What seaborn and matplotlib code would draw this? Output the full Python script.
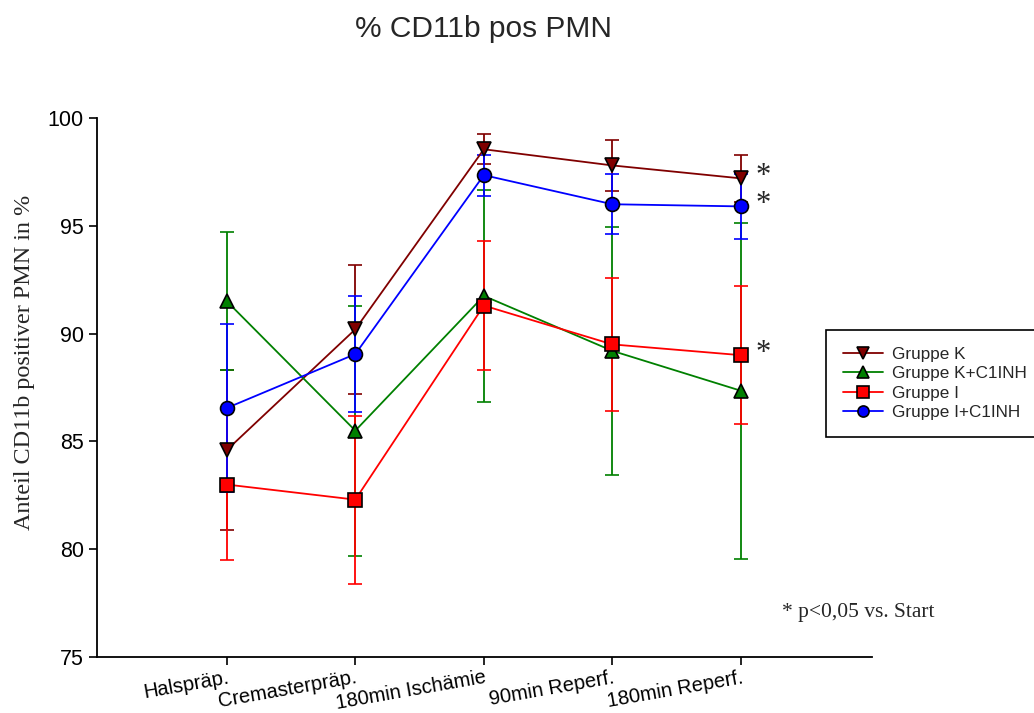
import numpy as np
import pandas as pd
import matplotlib
matplotlib.use('Agg')
import matplotlib.pyplot as plt
from matplotlib.lines import Line2D
import seaborn as sns

zeitpunkte = ['Halspräp.', 'Cremasterpräp.', '180min Ischämie', '90min Reperf.', '180min Reperf.']
gruppen = ['Gruppe K', 'Gruppe K+C1INH', 'Gruppe I', 'Gruppe I+C1INH']

k_mean = [84.6, 90.2, 98.55, 97.8, 97.2]
k_sd = [3.7, 3.0, 0.7, 1.2, 1.1]
kc_mean = [91.5, 85.5, 91.75, 89.2, 87.35]
kc_sd = [3.2, 5.8, 4.9, 5.75, 7.8]
i_mean = [83.0, 82.3, 91.3, 89.5, 89.0]
i_sd = [3.5, 3.9, 3.0, 3.1, 3.2]
ic_mean = [86.55, 89.05, 97.35, 96.0, 95.9]
ic_sd = [3.9, 2.7, 0.95, 1.4, 1.5]

# groups with significance at the last time point
signif = ['Gruppe K', 'Gruppe I', 'Gruppe I+C1INH']

means = {'Gruppe K': k_mean, 'Gruppe K+C1INH': kc_mean, 'Gruppe I': i_mean, 'Gruppe I+C1INH': ic_mean}
sds = {'Gruppe K': k_sd, 'Gruppe K+C1INH': kc_sd, 'Gruppe I': i_sd, 'Gruppe I+C1INH': ic_sd}
farben = {'Gruppe K': '#800000', 'Gruppe K+C1INH': '#008000', 'Gruppe I': '#ff0000', 'Gruppe I+C1INH': '#0000ff'}
marker = {'Gruppe K': 'v', 'Gruppe K+C1INH': '^', 'Gruppe I': 's', 'Gruppe I+C1INH': 'o'}

sns.set_style('ticks')
plt.rcParams['font.family'] = ['Liberation Sans', 'DejaVu Sans']

fig = plt.figure(figsize=(10.34, 7.13), dpi=100)
ax = fig.add_axes([0.0938, 0.0785, 0.7495, 0.756])

x = np.arange(len(zeitpunkte))
for g in gruppen:
    ax.errorbar(x, means[g], yerr=sds[g], color=farben[g], marker=marker[g],
                markersize=10, markeredgecolor='black', markeredgewidth=1.2,
                linewidth=1.3, elinewidth=1.3, capsize=5, capthick=1.3)

for g in signif:
    ax.text(x[-1] + 0.11, means[g][-1] + 0.1, '*', fontsize=22, family='Liberation Serif',
            ha='left', va='center')

ax.text(4.32, 77.05, '* p<0,05 vs. Start', fontsize=15.5, family='Liberation Serif',
        ha='left', va='center')

ax.set_xlim(-1.01, 5.02)
ax.set_ylim(75, 100)
ax.set_yticks([75, 80, 85, 90, 95, 100])
ax.set_xticks(x)
ax.set_xticklabels(zeitpunkte, rotation=10, ha='right', rotation_mode='anchor', fontsize=14.5)
ax.tick_params(axis='y', labelsize=15.5, length=6, width=1.2, colors='black')
ax.tick_params(axis='x', length=6, width=1.2, colors='black', pad=2)
for s in ['left', 'bottom']:
    ax.spines[s].set_linewidth(1.3)
    ax.spines[s].set_color('black')
sns.despine(ax=ax)

ax.set_ylabel('Anteil CD11b positiver PMN in %', family='Liberation Serif', fontsize=17.4)
ax.yaxis.set_label_coords(-0.08, 0.547)
fig.text(0.468, 0.960, '% CD11b pos PMN', fontsize=21.5, ha='center', va='center')

handles = [Line2D([], [], color=farben[g], marker=marker[g], markersize=8,
                  markeredgecolor='black', markeredgewidth=1.2, linewidth=1.3)
           for g in gruppen]
leg = ax.legend(handles, gruppen, loc='upper left', bbox_to_anchor=(826 / 1034, 1 - 330 / 713),
                bbox_transform=fig.transFigure, fontsize=12.3, frameon=True, fancybox=False,
                handlelength=2.35, handletextpad=0.5, borderpad=1.0, labelspacing=0.25,
                borderaxespad=0)
leg.get_frame().set_edgecolor('black')
leg.get_frame().set_linewidth(1.2)
leg.get_frame().set_alpha(1)

fig.savefig('out.png', dpi=100)
